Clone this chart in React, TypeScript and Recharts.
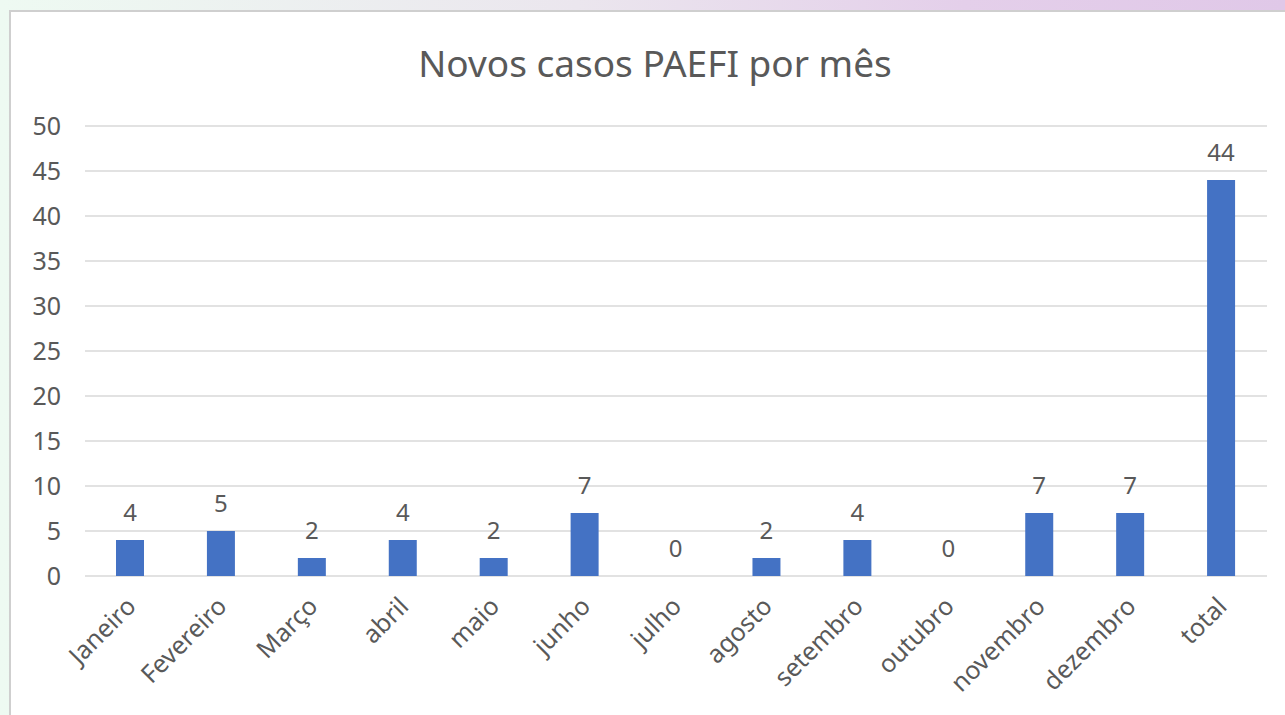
import React from "react";
import { BarChart, Bar, XAxis, YAxis, CartesianGrid, LabelList } from "recharts";

const months = [
  "Janeiro", "Fevereiro", "Março", "abril", "maio", "junho", "julho",
  "agosto", "setembro", "outubro", "novembro", "dezembro", "total",
];
const casos = [4, 5, 2, 4, 2, 7, 0, 2, 4, 0, 7, 7, 44];
const yTicks = [0, 5, 10, 15, 20, 25, 30, 35, 40, 45, 50];

const data = months.map((m, i) => ({ mes: m, casos: casos[i] }));

const FONT = "'Noto Sans', 'Open Sans', sans-serif";
const GREY = "#595959";

function MonthTick(props: any) {
  const { x, y, payload } = props;
  return (
    <g transform={`translate(${x - 3},${y + 14})`}>
      <text
        transform="rotate(-45)"
        textAnchor="end"
        dy={14}
        fill={GREY}
        fontSize={25}
        fontFamily={FONT}
      >
        {payload.value}
      </text>
    </g>
  );
}

export default function App() {
  return (
    <div
      style={{
        position: "absolute",
        left: 0,
        top: 0,
        width: 1285,
        height: 715,
        overflow: "hidden",
        background: "linear-gradient(to right, #eefaf2 0%, #ebe6ee 45%, #e4cfea 75%, #e0c8e8 100%)",
      }}
    >
      <div
        style={{
          position: "absolute",
          left: 9,
          top: 10,
          width: 1290,
          height: 720,
          background: "#fff",
          border: "2px solid #cfcfcf",
          boxSizing: "border-box",
        }}
      />
      <div
        style={{
          position: "absolute",
          left: 0,
          top: 37,
          width: 1310,
          textAlign: "center",
          fontFamily: FONT,
          fontSize: 37,
          color: GREY,
        }}
      >
        Novos casos PAEFI por mês
      </div>
      <div style={{ position: "absolute", left: 0, top: 0 }}>
        <BarChart
          width={1285}
          height={715}
          data={data}
          margin={{ top: 126, right: 18, left: 0, bottom: 39 }}
        >
          <CartesianGrid vertical={false} stroke="#d9d9d9" strokeWidth={1.5} />
          <XAxis
            dataKey="mes"
            height={100}
            interval={0}
            axisLine={false}
            tickLine={false}
            tick={<MonthTick />}
          />
          <YAxis
            width={85}
            domain={[0, 50]}
            ticks={yTicks}
            interval={0}
            axisLine={false}
            tickLine={false}
            tickSize={0}
            tickMargin={24}
            tick={{ fill: GREY, fontSize: 25, fontFamily: FONT }}
          />
          <Bar
            dataKey="casos"
            fill="#4472c4"
            barSize={28}
            minPointSize={0.01}
            isAnimationActive={false}
          >
            <LabelList
              dataKey="casos"
              position="top"
              offset={19}
              fill={GREY}
              fontSize={24}
              fontFamily={FONT}
            />
          </Bar>
        </BarChart>
      </div>
    </div>
  );
}
